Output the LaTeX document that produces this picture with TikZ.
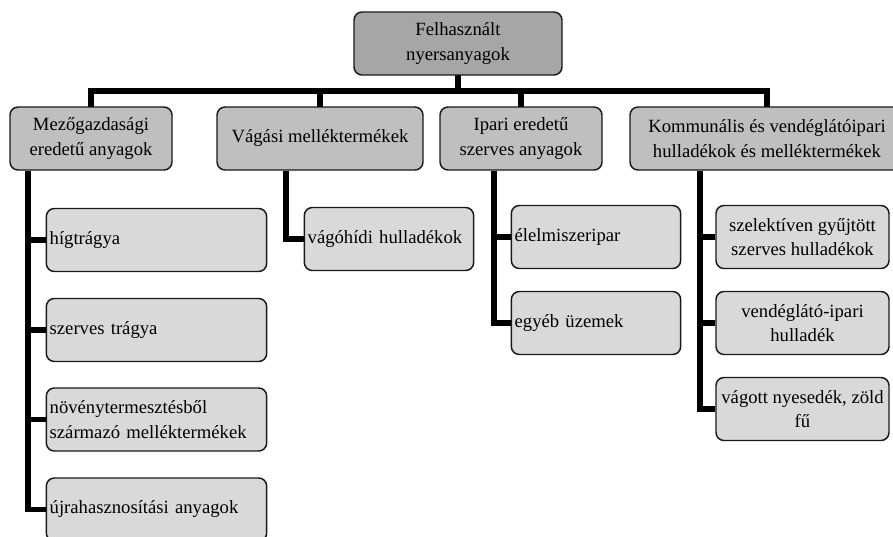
\documentclass[tikz,border=0pt]{standalone}
\usepackage{fontspec}
\setmainfont{Liberation Serif}
\begin{document}
\begin{tikzpicture}[x=0.75pt,y=-0.75pt,
  font=\fontsize{14}{18.2}\selectfont,
  boxbase/.style={draw=black!90,line width=1.1pt,rounded corners=6pt,
    inner sep=0pt,minimum height=#1*0.75pt},
  rootbox/.style={boxbase=63,fill=rootgray,align=center},
  catbox/.style={boxbase=63,fill=catgray,align=center},
  leafleft/.style={boxbase=63,fill=leafgray,align=left,
    text width=#1*0.75pt-7pt,inner xsep=2.5pt},
  leafmid/.style={boxbase=63,fill=leafgray,align=center,
    minimum width=#1*0.75pt},
  conn/.style={line width=4.1pt,black}]
\definecolor{rootgray}{HTML}{A6A6A6}
\definecolor{catgray}{HTML}{BFBFBF}
\definecolor{leafgray}{HTML}{D9D9D9}
\useasboundingbox (0,0) rectangle (893,536);
\clip (0,0) rectangle (893,536);

% helper coordinates for bus and spines
\coordinate (bus) at (0,91);
\coordinate (spA) at (28,170);
\coordinate (spB) at (286,170);
\coordinate (spC) at (494,170);
\coordinate (spD) at (700,170);

% connectors
\draw[conn] (458,75) coordinate (rootfoot) -- (rootfoot |- bus);
\draw[conn] (91,107) coordinate (f1) -- (f1 |- bus) -- (767,91) coordinate (busend) -- (767,107);
\draw[conn] (320,107) coordinate (f2) -- (f2 |- bus);
\draw[conn] (521,107) coordinate (f3) -- (f3 |- bus);

% top level
\node[rootbox,minimum width=208*0.75pt] (root) at (458,43.5) {Felhasznált\\nyersanyagok};

% categories
\node[catbox,minimum width=162*0.75pt] (cat1) at (91,138.5) {Mezőgazdasági\\eredetű anyagok};
\node[catbox,minimum width=206*0.75pt] (cat2) at (320,138.5) {Vágási melléktermékek};
\node[catbox,minimum width=162*0.75pt] (cat3) at (521,138.5) {Ipari eredetű\\szerves anyagok};
\node[catbox,minimum width=274*0.75pt] (cat4) at (767,138.5) {Kommunális és vendéglátóipari\\hulladékok és melléktermékek};

% agricultural materials
\node[leafleft=223] (a1) at (156.5,240) {hígtrágya};
\node[leafleft=223] (a2) at (156.5,330) {szerves trágya};
\node[leafleft=223] (a3) at (156.5,419.5) {növénytermesztésből\\származó melléktermékek};
\node[leafleft=223] (a4) at (156.5,509.5) {újrahasznosítási anyagok};

% slaughter by-products
\node[leafleft=172] (b1) at (389,239) {vágóhídi hulladékok};

% industrial organic materials
\node[leafleft=172] (c1) at (596,237) {élelmiszeripar};
\node[leafleft=172] (c2) at (596,323) {egyéb üzemek};

% communal and catering waste
\node[leafmid=173] (d1) at (802.5,237) {szelektíven gyűjtött\\szerves hulladékok};
\node[leafmid=173] (d2) at (802.5,323) {vendéglátó-ipari\\hulladék};
\node[leafmid=173] (d3) at (802.5,409) {vágott nyesedék, zöld\\fű};

% spines and branches
\draw[conn] (cat1.south -| spA) |- (a4.west);
\draw[conn] (a1.west) -- (a1.west -| spA);
\draw[conn] (a2.west) -- (a2.west -| spA);
\draw[conn] (a3.west) -- (a3.west -| spA);

\draw[conn] (cat2.south -| spB) |- (b1.west);

\draw[conn] (cat3.south -| spC) |- (c2.west);
\draw[conn] (c1.west) -- (c1.west -| spC);

\draw[conn] (cat4.south -| spD) |- (d3.west);
\draw[conn] (d1.west) -- (d1.west -| spD);
\draw[conn] (d2.west) -- (d2.west -| spD);
\end{tikzpicture}
\end{document}
